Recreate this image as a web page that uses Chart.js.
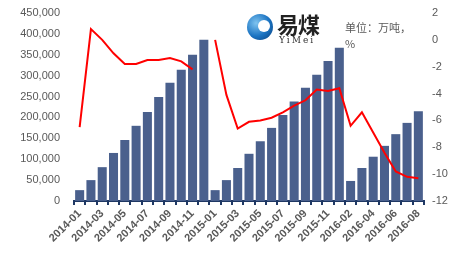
<!DOCTYPE html>
<html>
<head>
<meta charset="utf-8">
<script src="https://cdn.jsdelivr.net/npm/chart.js@4"></script>
<style>
  body { margin: 0; background: #fff; }
  #wrap { position: relative; width: 452px; height: 261px; }
  #logo-ball {
    position: absolute; left: 247px; top: 14px; width: 26px; height: 26px; border-radius: 50%;
    background: radial-gradient(circle at 35% 35%, #7fc4f0 0%, #1a73c2 55%, #0b3f7a 100%);
  }
  #logo-cut {
    position: absolute; left: 258px; top: 20px; width: 12px; height: 12px; border-radius: 50%;
    background: #fff;
  }
  #logo-cn {
    position: absolute; left: 277px; top: 10px; font: bold 22px "Noto Sans CJK SC"; color: #222;
    letter-spacing: -1px; line-height: 26px;
  }
  #logo-en {
    position: absolute; left: 279px; top: 35px; font: 9px "DejaVu Serif"; color: #333;
    letter-spacing: 2px;
  }
  #unit {
    position: absolute; left: 345px; top: 19px; width: 70px; font: 11px "Noto Sans CJK SC"; color: #595959;
    line-height: 16px;
  }
</style>
</head>
<body>
<div id="wrap">
  <canvas id="chart" width="452" height="261"></canvas>
  <div id="logo-ball"></div>
  <div id="logo-cut"></div>
  <div id="logo-cn">易煤</div>
  <div id="logo-en">YiMei</div>
  <div id="unit">单位：万吨，%</div>
</div>
<script>
const months = [
  "2014-01", "2014-02", "2014-03", "2014-04", "2014-05", "2014-06", "2014-07", "2014-08",
  "2014-09", "2014-10", "2014-11", "2014-12",
  "2015-01", "2015-02", "2015-03", "2015-04", "2015-05", "2015-06", "2015-07", "2015-08",
  "2015-09", "2015-10", "2015-11", "2015-12",
  "2016-02", "2016-03", "2016-04", "2016-05", "2016-06", "2016-07", "2016-08"
]

// cumulative output (bars, left axis)
const output = [
  26000, 50000, 81000, 115000, 146000, 180000, 213000, 249000, 283000, 314000, 350000, 386000,
  26000, 50000, 79000, 113000, 143000, 175000, 206000, 238000, 271000, 302000, 335000, 367000,
  48000, 79000, 106000, 132000, 160000, 187000, 215000
]

// growth % (line, right axis)
const growth = [
  -6.5, 0.8, 0.0, -1.0, -1.8, -1.8, -1.5, -1.5, -1.35, -1.6, -2.2, null,
  0.0, -4.1, -6.6, -6.1, -6.0, -5.8, -5.4, -4.9, -4.5, -3.7, -3.8, -3.6,
  -6.4, -5.4, -6.9, -8.4, -9.8, -10.2, -10.3
]

const axisColor = "#1F3864"
const textColor = "#595959"

// fix the scale boxes so the plot area sits where the original one does
const fitSide = (w) => (s) => { s.width = w; s.paddingTop = 0; s.paddingBottom = 0 }

new Chart(document.getElementById("chart"), {
  type: "bar",
  data: {
    labels: months,
    datasets: [
      {
        type: "line",
        data: growth,
        yAxisID: "y1",
        borderColor: "#FF0000",
        borderWidth: 2,
        pointRadius: 0,
        tension: 0,
        spanGaps: false,
        order: 0,
      },
      {
        data: output,
        yAxisID: "y",
        backgroundColor: "#4A608D",
        categoryPercentage: 1,
        barPercentage: 0.8,
        order: 1,
      },
    ],
  },
  options: {
    responsive: false,
    animation: false,
    layout: { padding: { top: 13, left: 0, right: 0, bottom: 0 } },
    plugins: { legend: { display: false }, tooltip: { enabled: false } },
    scales: {
      x: {
        offset: true,
        afterFit: (s) => { s.height = 60; s.paddingTop = 0; s.paddingLeft = 0; s.paddingRight = 0 },
        grid: { offset: true, drawOnChartArea: false, tickLength: 4, color: axisColor, lineWidth: 2 },
        border: { color: axisColor, width: 2 },
        ticks: {
          autoSkip: false,
          maxRotation: 45,
          minRotation: 45,
          padding: 2,
          color: textColor,
          font: { family: "Liberation Sans", size: 11, weight: "bold" },
          callback: (v, i) => (i % 2 === 0 ? months[i] : ""),
        },
      },
      y: {
        position: "left",
        min: 0,
        max: 450000,
        afterFit: fitSide(74),
        grid: { display: false, drawTicks: false },
        border: { display: false },
        ticks: {
          stepSize: 50000,
          padding: 14,
          color: textColor,
          font: { family: "Liberation Sans", size: 11 },
          callback: (v) => v.toLocaleString("en-US"),
        },
      },
      y1: {
        position: "right",
        min: -12,
        max: 2,
        afterFit: fitSide(28),
        grid: { display: false, drawTicks: false },
        border: { display: false },
        ticks: {
          stepSize: 2,
          padding: 8,
          color: textColor,
          font: { family: "Liberation Sans", size: 11 },
        },
      },
    },
  },
})
</script>
</body>
</html>
